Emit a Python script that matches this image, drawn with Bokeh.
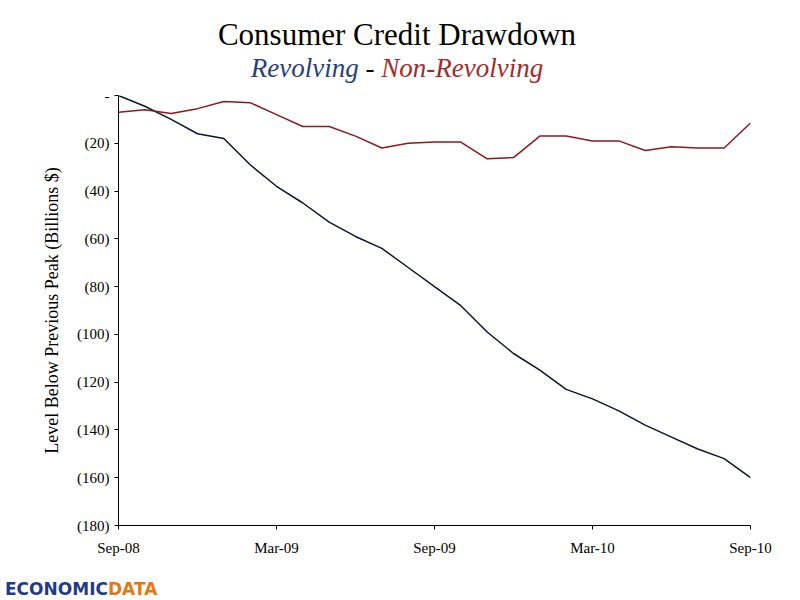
from bokeh.plotting import figure
from bokeh.models import Range1d, FixedTicker, Div
from bokeh.layouts import column
from bokeh.embed import file_html
from bokeh.resources import INLINE

months = list(range(25))
x_tick_pos = [0, 6, 12, 18, 24]
x_tick_labels = ["Sep-08", "Mar-09", "Sep-09", "Mar-10", "Sep-10"]
revolving = [0, -4.5, -10, -16, -18, -29, -38, -45, -53, -59, -64, -72, -80, -88,
             -99, -108, -115, -123, -127, -132, -138, -143, -148, -152, -160]
non_revolving = [-7, -6, -7.5, -5.5, -2.5, -3, -8, -13, -13, -17, -22, -20, -19.5,
                 -19.5, -26.5, -26, -17, -17, -19, -19, -23, -21.5, -22, -22, -11.5]
y_ticks = [0, -20, -40, -60, -80, -100, -120, -140, -160, -180]
title = "Consumer Credit Drawdown"
sub_a, sub_b = "Revolving", "Non-Revolving"

FONT = "Liberation Serif"
p = figure(width=784, height=484, output_backend="svg", toolbar_location=None,
           x_range=Range1d(0, 24), y_range=Range1d(-180, 0),
           min_border_left=118, min_border_right=34, min_border_top=9, min_border_bottom=45)
p.outline_line_color = None
p.xgrid.visible = False
p.ygrid.visible = False

p.line(months, revolving, line_color="#0d1433", line_width=1.5)
p.line(months, non_revolving, line_color="#8b1a1a", line_width=1.5)

p.xaxis.ticker = FixedTicker(ticks=x_tick_pos)
p.xaxis.major_label_overrides = dict(zip(x_tick_pos, x_tick_labels))
p.yaxis.ticker = FixedTicker(ticks=y_ticks)
p.yaxis.major_label_overrides = {v: ("-" if v == 0 else f"({-v})") for v in y_ticks}
for ax in (p.xaxis[0], p.yaxis[0]):
    ax.major_label_text_font = FONT
    ax.major_label_text_font_size = "15px"
    ax.major_label_text_color = "#000000"
    ax.axis_line_color = "#000000"
    ax.major_tick_line_color = "#000000"
    ax.minor_tick_line_color = None
    ax.major_tick_in = 0
    ax.major_tick_out = 4
p.xaxis.major_label_standoff = 10
p.yaxis.axis_label = "Level Below Previous Peak (Billions $)"
p.yaxis.axis_label_text_font = FONT
p.yaxis.axis_label_text_font_style = "normal"
p.yaxis.axis_label_text_font_size = "18px"
p.yaxis.axis_label_text_color = "#000000"
p.yaxis.axis_label_standoff = 12

head = Div(width=784, height=76, text=(
    f'<div style="width:784px;text-align:center;font-family:\'{FONT}\';line-height:1.15;padding-top:12px">'
    f'<div style="font-size:31px;color:#000">{title}</div>'
    f'<div style="font-size:27px;font-style:italic"><span style="color:#2a3d7a">{sub_a}</span>'
    f' <span style="font-style:normal;color:#000">-</span> <span style="color:#a52a2a">{sub_b}</span></div></div>'))
logo = Div(width=784, height=24, text=(
    '<div style="font-family:\'DejaVu Sans\';font-weight:bold;font-size:17px;margin-top:2px">'
    '<span style="color:#1f3a8a">ECONOMIC</span><span style="color:#e07a10">DATA</span></div>'))

layout = column(head, p, logo, spacing=0)
open("out.html", "w").write(file_html(layout, INLINE))
